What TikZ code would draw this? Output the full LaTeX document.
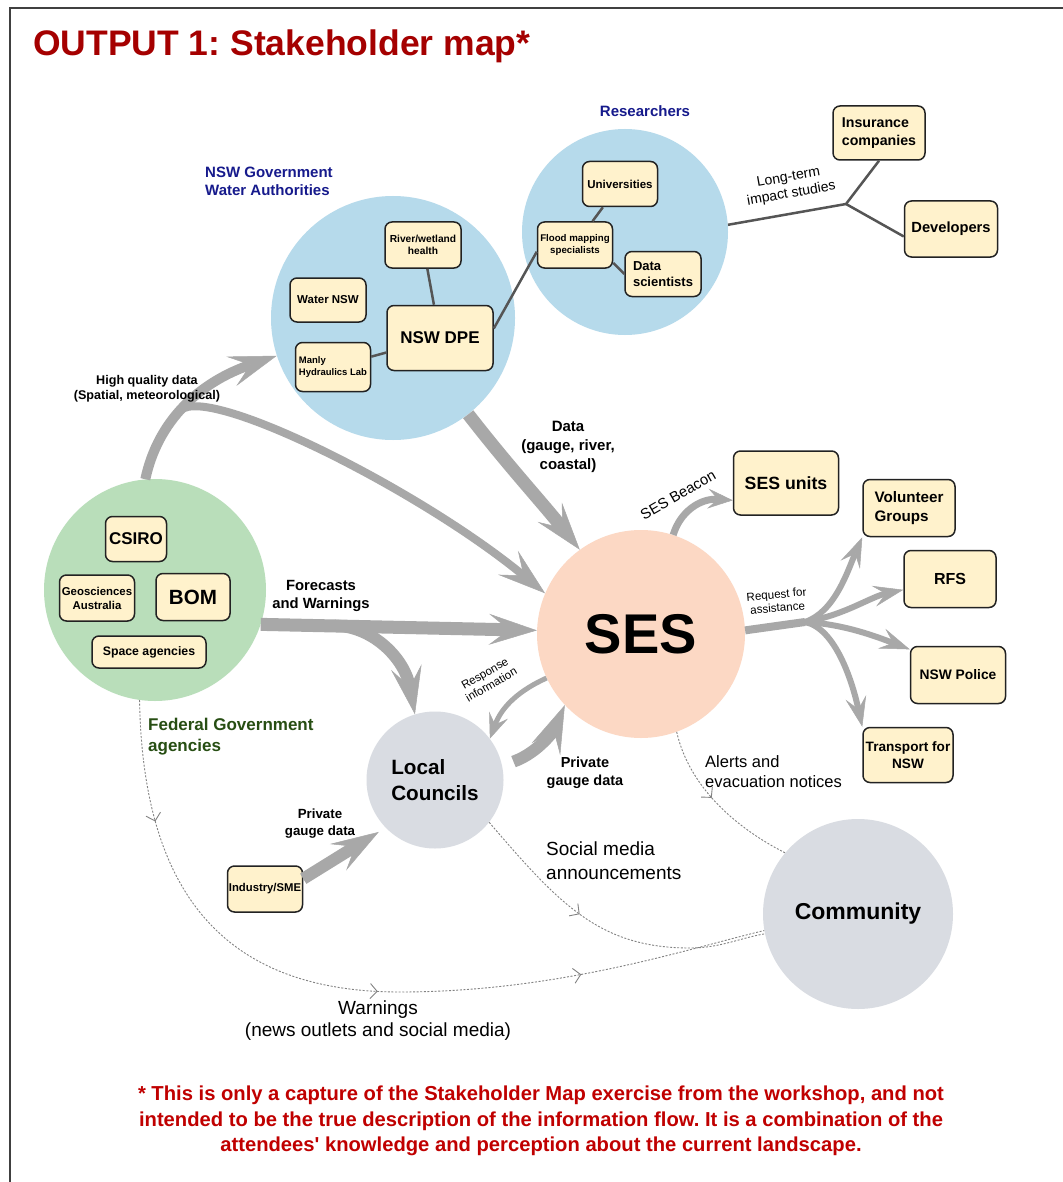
\documentclass[tikz,border=0pt]{standalone}
\usepackage{fontspec}
\setmainfont{Liberation Sans}
\usetikzlibrary{arrows.meta,decorations.markings}

\definecolor{boxfill}{RGB}{255,242,204}
\definecolor{boxline}{RGB}{34,34,34}
\definecolor{wblue}{RGB}{182,218,235}
\definecolor{fgreen}{RGB}{185,222,186}
\definecolor{sesfill}{RGB}{252,216,196}
\definecolor{greyfill}{RGB}{217,220,226}
\definecolor{flowgrey}{RGB}{168,168,168}
\definecolor{linkgrey}{RGB}{85,85,85}
\definecolor{dashgrey}{RGB}{130,130,130}
\definecolor{titlered}{RGB}{165,0,0}
\definecolor{notered}{RGB}{192,0,0}
\definecolor{grpblue}{RGB}{22,26,140}
\definecolor{grpgreen}{RGB}{39,78,19}

\newcommand\fz[2]{\fontsize{#1}{#2}\selectfont}

\tikzset{
  bigtip/.tip={Stealth[length=48pt,width=31pt,inset=20pt,line width=0.5pt]},
  midtip/.tip={Stealth[length=30pt,width=21pt,inset=12pt,line width=0.5pt]},
  smalltip/.tip={Stealth[length=25pt,width=20pt,inset=10pt,line width=0.5pt]},
  marktip/.tip={Straight Barb[length=7pt,width=15pt,line width=0.9pt]},
}

\begin{document}
\frenchspacing
\begin{tikzpicture}[x=1pt,y=-1pt,
  stake/.style={draw=boxline,line width=1.5pt,fill=boxfill,rounded corners=7pt,
                align=center,inner sep=1pt},
  grp/.style={circle,inner sep=0pt,align=center},
  flow/.style={draw=flowgrey,line width=#1},
  linkline/.style={draw=linkgrey,line width=2.5pt},
  dflow/.style={draw=dashgrey,line width=0.9pt,dash pattern=on 2pt off 1.6pt,
                postaction={decorate}},
  lbl/.style={align=center,inner sep=0pt},
]
\useasboundingbox (0,0) rectangle (1062,1182);
\fill[white] (0,0) rectangle (1062,1182);

% frame
\draw[line width=2pt,draw=black!75] (10,1195) -- (10,8) -- (1075,8);

% title
\node[lbl,anchor=west,text=titlered,font=\bfseries\fz{35.5}{42}] (title) at (33,46)
  {OUTPUT 1: Stakeholder map*};

% stakeholder groups
\node[grp,fill=wblue,minimum size=244pt] (nsw) at (393,318) {};
\node[grp,fill=wblue,minimum size=206pt] (res) at (625,232) {};
\node[grp,fill=fgreen,minimum size=222pt] (fed) at (155,590) {};
\node[grp,fill=sesfill,minimum size=208pt,font=\bfseries\fz{56}{60}] (ses) at (641,634) {SES};
\node[grp,fill=greyfill,minimum size=137pt,align=left,font=\bfseries\fz{20.7}{26}] (lc) at (435,780) {Local\\Councils};
\node[grp,fill=greyfill,minimum size=190pt,font=\bfseries\fz{23}{27}] (com) at (858,914) {Community};

% group captions
\node[lbl,anchor=west,align=left,text=grpblue,font=\bfseries\fz{15}{18}] (nswcap) at (205,181)
  {NSW Government\\Water Authorities};
\node[lbl,text=grpblue,font=\bfseries\fz{15}{18}] (rescap) at (645,111) {Researchers};
\node[lbl,anchor=west,align=left,text=grpgreen,font=\bfseries\fz{17}{21}] (fedcap) at (148,737)
  {Federal Government\\agencies};

% stakeholders
\node[stake,minimum width=76pt,minimum height=46pt,font=\bfseries\fz{10.2}{12.5}] (rw) at (423,245) {River/wetland\\health};
\node[stake,minimum width=76pt,minimum height=44pt,font=\bfseries\fz{11.5}{14}] (wnsw) at (328,300) {Water NSW};
\node[stake,minimum width=106pt,minimum height=65pt,font=\bfseries\fz{17}{20}] (dpe) at (440,338) {NSW DPE};
\node[stake,minimum width=75pt,minimum height=49pt,align=left,font=\bfseries\fz{9.5}{12}] (mhl) at (333,367) {Manly\\Hydraulics Lab};
\node[stake,minimum width=75pt,minimum height=45pt,font=\bfseries\fz{11.5}{14}] (uni) at (620,184) {Universities};
\node[stake,minimum width=75pt,minimum height=46pt,font=\bfseries\fz{9.7}{12}] (fm) at (575,245) {Flood mapping\\specialists};
\node[stake,minimum width=76pt,minimum height=45pt,align=left,font=\bfseries\fz{13}{16}] (dsc) at (663,274) {Data\\scientists};
\node[stake,minimum width=92pt,minimum height=54pt,align=left,font=\bfseries\fz{14.2}{17.5}] (ins) at (879,133) {Insurance\\companies};
\node[stake,minimum width=93pt,minimum height=56pt,font=\bfseries\fz{14.7}{18}] (dev) at (951,229) {Developers};
\node[stake,minimum width=61pt,minimum height=45pt,font=\bfseries\fz{17}{20}] (csiro) at (136,539) {CSIRO};
\node[stake,minimum width=75pt,minimum height=46pt,font=\bfseries\fz{11.4}{14}] (geo) at (97,598) {Geosciences\\Australia};
\node[stake,minimum width=74pt,minimum height=47pt,font=\bfseries\fz{20.6}{24}] (bom) at (193,597) {BOM};
\node[stake,minimum width=114pt,minimum height=32pt,font=\bfseries\fz{12.3}{15}] (space) at (149,652) {Space agencies};
\node[stake,minimum width=105pt,minimum height=64pt,font=\bfseries\fz{17.7}{21}] (su) at (786,483) {SES units};
\node[stake,minimum width=92pt,minimum height=57pt,align=left,font=\bfseries\fz{15.2}{19}] (vg) at (909,508) {Volunteer\\Groups};
\node[stake,minimum width=92pt,minimum height=57pt,font=\bfseries\fz{16}{19}] (rfs) at (950,579) {RFS};
\node[stake,minimum width=95pt,minimum height=57pt,font=\bfseries\fz{13.8}{17}] (pol) at (958,675) {NSW Police};
\node[stake,minimum width=90pt,minimum height=55pt,font=\bfseries\fz{13.6}{17}] (tr) at (908,755) {Transport for\\NSW};
\node[stake,minimum width=75pt,minimum height=46pt,font=\bfseries\fz{11.3}{14}] (ind) at (265,889) {Industry/SME};

% ties inside and between groups
\draw[linkline] (rw) -- (dpe);
\draw[linkline] (mhl) -- (dpe);
\draw[linkline] (dpe.10) -- (fm.190);
\draw[linkline] (uni) -- (fm);
\draw[linkline] (fm.-25) -- (dsc.west);
\coordinate (ltfork) at (846,204);
\draw[linkline] (res.4) -- (ltfork) -- (ins.south);
\draw[linkline] (ltfork) -- (dev.189);

% information flows
\coordinate (hqfork) at (181,410);
\draw[flow=10pt,-bigtip] (fed.95) .. controls (158,420) and (200,382) .. (nsw.198);
\draw[flow=8pt,-bigtip] (hqfork) .. controls (210,385) and (420,490) .. (ses.157);
\draw[flow=13pt,-bigtip] (nsw.-52) .. controls (510,468) and (540,500) .. (ses.126);
\coordinate (fcfork) at (335,625.5);
\draw[flow=13pt,-bigtip] (fed.-18) -- (ses.178);
\draw[flow=12pt,-bigtip] (fcfork) .. controls (375,627) and (405,660) .. (lc.107);
\draw[flow=5pt,-smalltip] (ses.205) .. controls (520,690) and (502,706) .. (lc.37);
\draw[flow=12pt,-bigtip,shorten <=12pt] (lc.12) .. controls (540,752) and (555,728) .. (ses.223);
\draw[flow=12pt,-bigtip,shorten >=8pt] (ind.15) -- (lc.224);
\draw[flow=7pt,-smalltip] (ses.72) .. controls (680,512) and (700,498) .. (su.198);
\coordinate (rqfork) at (805,622);
\draw[flow=8pt] (ses.2) -- (rqfork);
\draw[flow=6pt,-midtip] (rqfork) .. controls (835,612) and (848,570) .. (vg.south west);
\draw[flow=6pt,-midtip] (rqfork) .. controls (845,615) and (870,597) .. (rfs.193);
\draw[flow=6pt,-midtip] (rqfork) .. controls (845,624) and (880,638) .. (pol.152);
\draw[flow=6pt,-midtip] (rqfork) .. controls (835,628) and (852,680) .. (tr.north west);

% broadcast flows
\draw[dflow,decoration={markings,
    mark=at position 0.15 with {\arrow{marktip}},
    mark=at position 0.52 with {\arrow{marktip}},
    mark=at position 0.77 with {\arrow{marktip}}}]
  (fed.262) .. controls (143,900) and (230,992) .. (400,992)
            .. controls (560,992) and (690,948) .. (com.190);
\draw[dflow,decoration={markings,mark=at position 0.4 with {\arrow{marktip}}}]
  (lc.-38) .. controls (560,905) and (600,948) .. (690,948)
           .. controls (720,948) and (740,938) .. (com.192);
\draw[dflow,decoration={markings,mark=at position 0.45 with {\arrow{marktip}}}]
  (ses.-70) .. controls (690,790) and (740,830) .. (com.140);

% flow captions
\node[lbl,font=\bfseries\fz{12.6}{15.5}] (hqcap) at (147,389) {High quality data\\(Spatial, meteorological)};
\node[lbl,font=\bfseries\fz{15}{19}] (datacap) at (568,447) {Data\\(gauge, river,\\coastal)};
\node[lbl,font=\bfseries\fz{14.8}{18}] (fccap) at (321,596) {Forecasts\\and Warnings};
\node[lbl,font=\fz{11.5}{13},rotate=30] (respcap) at (488,679) {Response\\information};
\node[lbl,font=\bfseries\fz{14.5}{18}] (pgcap) at (585,773) {Private\\gauge data};
\node[lbl,font=\bfseries\fz{13.3}{17}] (pgcap2) at (320,824) {Private\\gauge data};
\node[lbl,font=\fz{14.8}{17},rotate=30] (beaconcap) at (678,495) {SES Beacon};
\node[lbl,font=\fz{11.6}{13.5},rotate=5] (rqcap) at (777,601) {Request for\\assistance};
\node[lbl,anchor=west,align=left,font=\fz{16.5}{20}] (alertcap) at (705,772) {Alerts and\\evacuation notices};
\node[lbl,anchor=west,align=left,font=\fz{19}{24}] (smcap) at (546,861) {Social media\\announcements};
\node[lbl,font=\fz{19}{22}] (warncap) at (378,1021) {Warnings\\(news outlets and social media)};
\node[lbl,font=\fz{14}{16.5},rotate=10] (ltcap) at (790,186) {Long-term\\impact studies};

% footnote
\node[lbl,text=notered,font=\bfseries\fz{20.2}{25.5}] (note) at (541,1121)
  {* This is only a capture of the Stakeholder Map exercise from the workshop, and not\\
   intended to be the true description of the information flow. It is a combination of the\\
   attendees\textquotesingle\ knowledge and perception about the current landscape.};
\end{tikzpicture}
\end{document}
